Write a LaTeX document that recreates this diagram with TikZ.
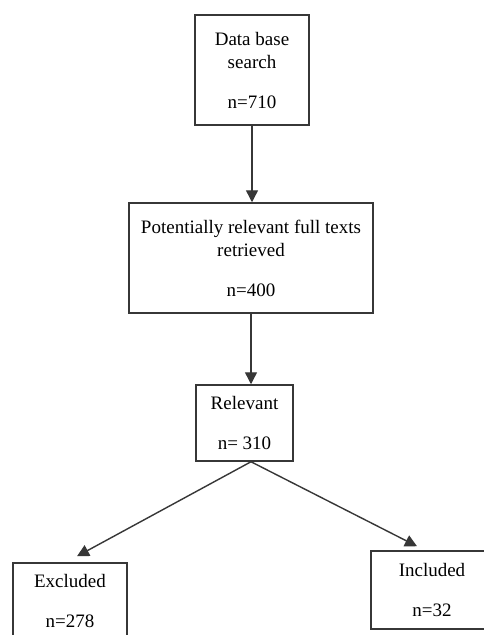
\documentclass[tikz,border=0pt]{standalone}
\usepackage{fontspec}
\setmainfont{Liberation Serif}
\usepackage{tikz}
\usetikzlibrary{arrows.meta,calc}
\definecolor{flowLine}{RGB}{55,55,55}

\tikzset{
  flowbox/.style={draw=flowLine,line width=1.5pt,fill=white,inner sep=0pt,
                  align=center,font=\fontsize{19}{23}\selectfont},
  flowarrow/.style={draw=flowLine,line width=1.4pt,
                    -{Triangle[length=12pt,width=12pt]}}
}

\begin{document}
\begin{tikzpicture}[x=1pt,y=-1pt]

    \clip (0,0) rectangle (484,635);
    \fill[white] (0,0) rectangle (484,635);

    % ── top of the flow ───────────────────────────────────
    \node[flowbox,minimum width=114pt,minimum height=110pt] (search)
      at (252,70) {Data base\\search\\[17pt]n=710};
    \node[flowbox,minimum width=244pt,minimum height=110pt] (retrieved)
      at (251,258) {Potentially relevant full texts\\retrieved\\[17pt]n=400};
    \node[flowbox,minimum width=97pt,minimum height=76pt] (relevant)
      at (244.5,423) {Relevant\\[17pt]n= 310};

    % ── the two outcomes ──────────────────────────────────
    \node[flowbox,minimum width=114pt,minimum height=76pt] (excluded)
      at (70,601) {Excluded\\[17pt]n=278};
    \node[flowbox,minimum width=122pt,minimum height=78pt] (included)
      at (432,590) {Included\\[17pt]n=32};

    % connectors
    \draw[flowarrow] (search.south) -- (search.south |- retrieved.north);
    \draw[flowarrow] (retrieved.south) -- (retrieved.south |- relevant.north);
    \coordinate (split) at (retrieved.south |- relevant.south);
    \draw[flowarrow] (split) -- ($(excluded.north)+(7,-6)$);
    \draw[flowarrow] (split) -- ($(included.north)+(-15,-4)$);

\end{tikzpicture}
\end{document}
